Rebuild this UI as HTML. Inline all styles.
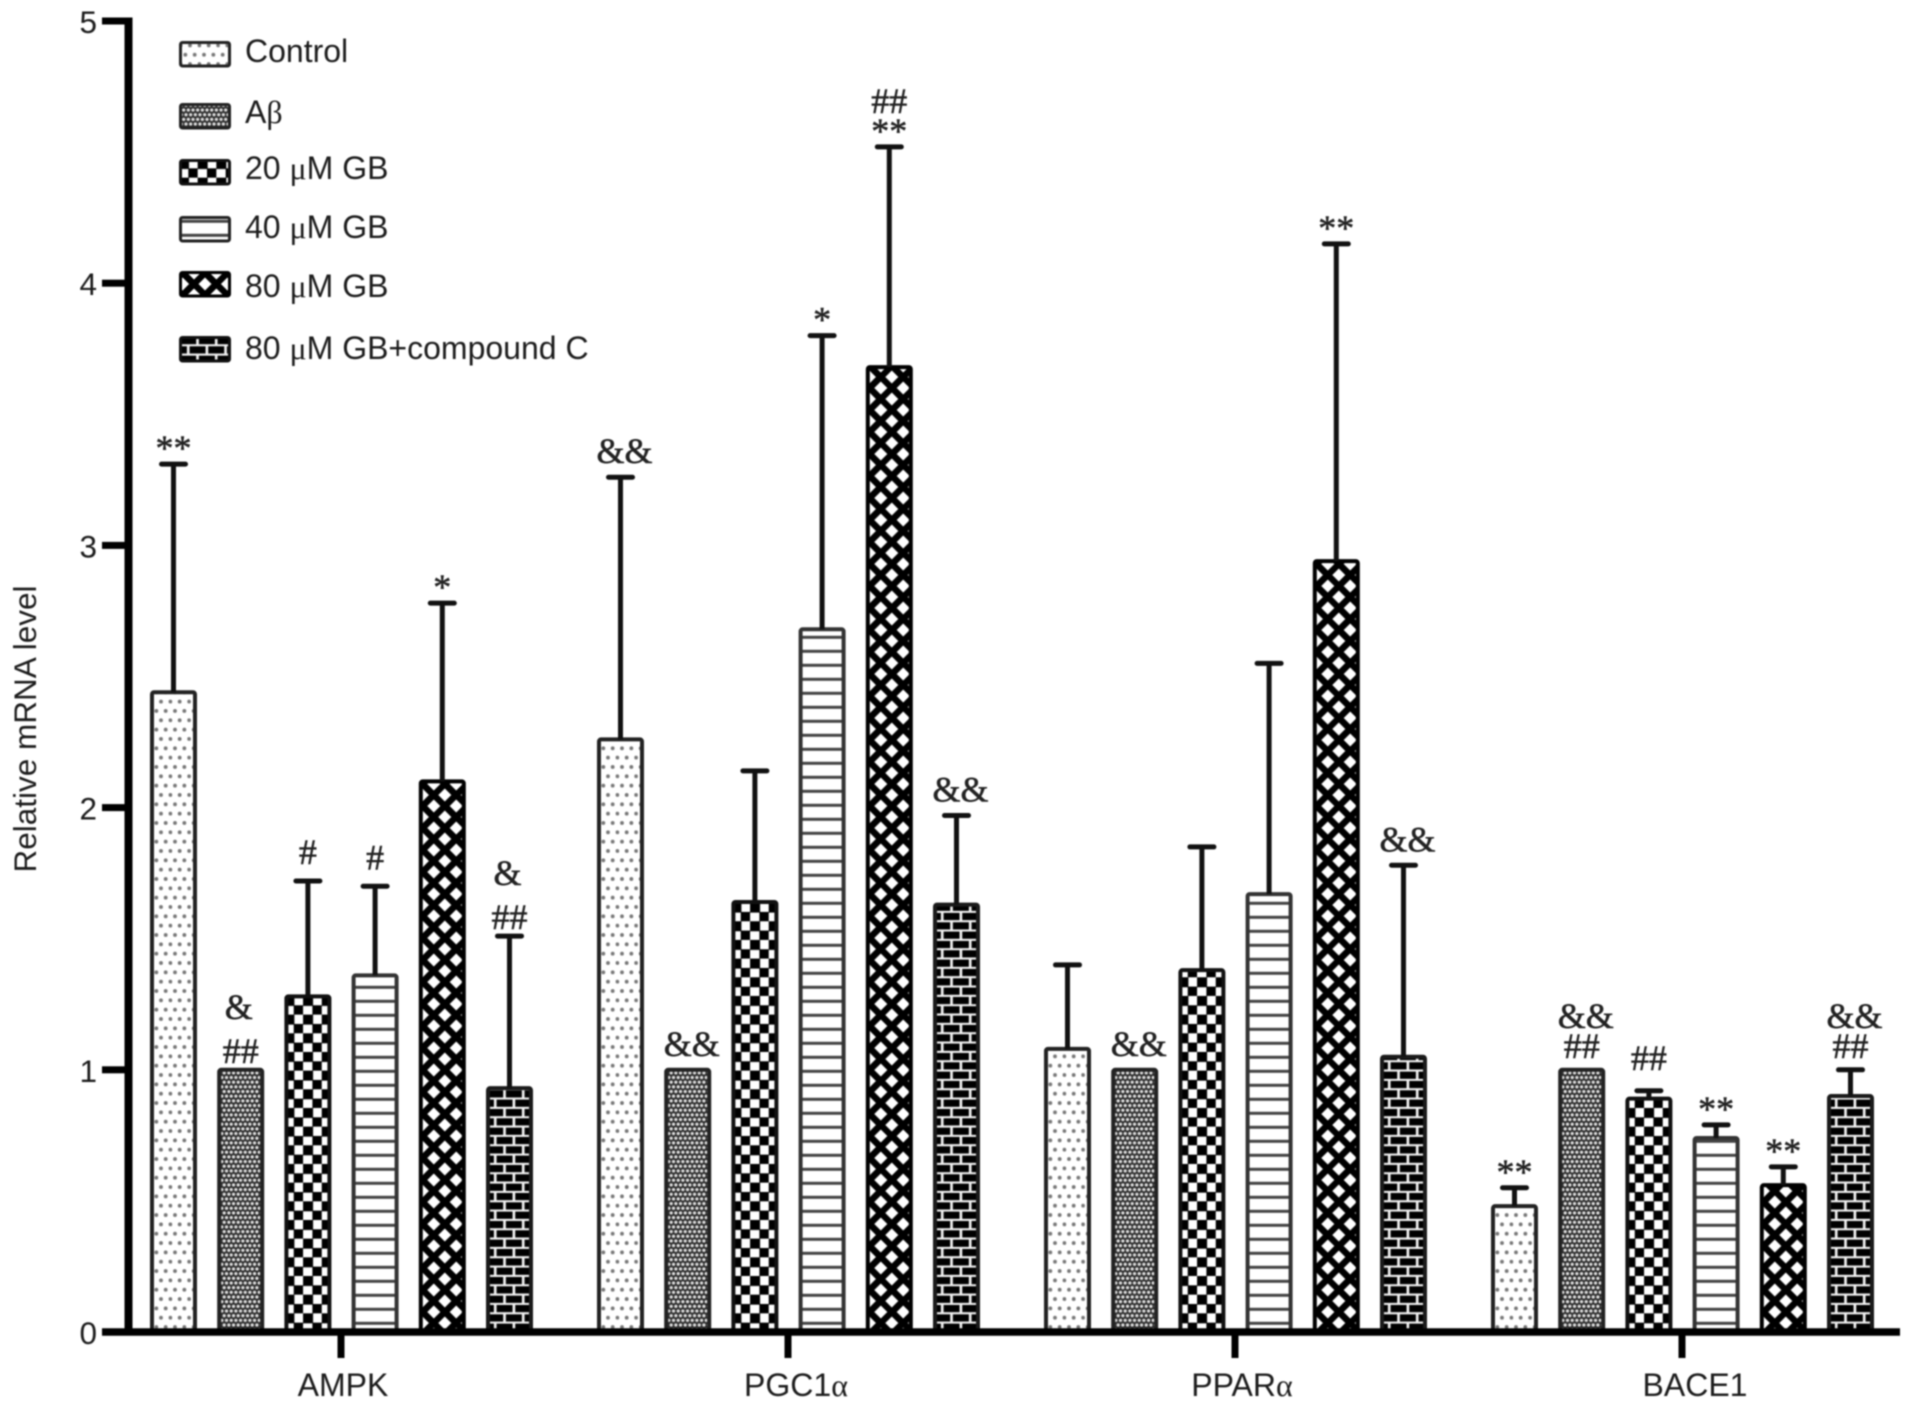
<!DOCTYPE html>
<html lang="en">
<head>
<meta charset="utf-8">
<title>Relative mRNA level chart</title>
<style>
  html, body { margin: 0; padding: 0; background: #fff; }
  body { width: 1913px; height: 1410px; overflow: hidden; }
  svg { display: block; filter: blur(0.7px); }
  .sans { font-family: "Liberation Sans", sans-serif; fill: #1c1c1c; }
  .greek { font-family: "Liberation Serif", serif; }
  .note { font-family: "Liberation Serif", serif; font-size: 36px; text-anchor: middle; fill: #222; stroke: #222; stroke-width: 0.5px; }
</style>
</head>
<body>
<svg id="chart" xmlns="http://www.w3.org/2000/svg" width="1913" height="1410" viewBox="0 0 1913 1410">
  <defs>
    <pattern id="fill-control" patternUnits="userSpaceOnUse" width="18.67" height="18.67">
      <rect width="18.67" height="18.67" fill="#fff"/>
      <circle cx="1.67" cy="4.37" r="1.9" fill="#777"/><circle cx="11" cy="4.37" r="1.9" fill="#777"/>
      <circle cx="6.33" cy="13.7" r="1.9" fill="#777"/><circle cx="15.67" cy="13.7" r="1.9" fill="#777"/>
    </pattern>
    <pattern id="fill-abeta" patternUnits="userSpaceOnUse" width="9.34" height="9.34">
      <rect width="9.34" height="9.34" fill="#2c2c2c"/>
      <circle cx="2.33" cy="2.33" r="1.65" fill="#e0e0e0"/><circle cx="7" cy="2.33" r="1.65" fill="#e0e0e0"/>
      <circle cx="0" cy="7" r="1.65" fill="#e0e0e0"/><circle cx="4.67" cy="7" r="1.65" fill="#e0e0e0"/><circle cx="9.34" cy="7" r="1.65" fill="#e0e0e0"/>
    </pattern>
    <pattern id="fill-20" patternUnits="userSpaceOnUse" width="18.67" height="18.67">
      <rect width="18.67" height="18.67" fill="#fff"/>
      <rect x="0" y="0" width="10" height="10" fill="#000"/>
      <rect x="9.33" y="9.33" width="10" height="10" fill="#000"/>
    </pattern>
    <pattern id="fill-40" patternUnits="userSpaceOnUse" width="14" height="14">
      <rect width="14" height="14" fill="#fff"/>
      <rect x="0" y="3.8" width="14" height="3" fill="#444"/>
    </pattern>
    <pattern id="fill-80" patternUnits="userSpaceOnUse" width="22.4" height="22">
      <rect width="22.4" height="22" fill="#000"/>
      <polygon points="3.6,6.5 10.1,13 3.6,19.5 -2.9,13" fill="#fff"/>
      <polygon points="26,6.5 32.5,13 26,19.5 19.5,13" fill="#fff"/>
      <polygon points="15,-4.5 21.5,2 15,8.5 8.5,2" fill="#fff"/>
      <polygon points="15,17.5 21.5,24 15,30.5 8.5,24" fill="#fff"/>
    </pattern>
    <pattern id="fill-brick" patternUnits="userSpaceOnUse" width="18.67" height="18.67">
      <rect width="18.67" height="18.67" fill="#f2f2f2"/>
      <rect x="1.2" y="1" width="16" height="7.2" fill="#000"/>
      <rect x="-8.1" y="10.3" width="16" height="7.2" fill="#000"/>
      <rect x="10.57" y="10.3" width="16" height="7.2" fill="#000"/>
    </pattern>
  </defs>

  <g id="bars"></g>
  <g id="errors"></g>
  <g id="notes"></g>
  <g id="axes"></g>

  <text class="sans" transform="translate(36,729) rotate(-90)" font-size="31.5" text-anchor="middle">Relative mRNA level</text>

  <g>
    <g>
      <g transform="translate(179,41)"><rect x="1.5" y="1.5" width="49" height="23.5" rx="2" fill="url(#fill-control)" stroke="#222" stroke-width="3"/></g>
      <text class="sans" x="245" y="62" font-size="32">Control</text>
    </g>
    <g>
      <g transform="translate(179,103)"><rect x="1.5" y="1.5" width="49" height="23.5" rx="2" fill="url(#fill-abeta)" stroke="#222" stroke-width="3"/></g>
      <text class="sans" x="245" y="123" font-size="32">A<tspan class="greek">β</tspan></text>
    </g>
    <g>
      <g transform="translate(179,159)"><rect x="1.5" y="1.5" width="49" height="23.5" rx="2" fill="url(#fill-20)" stroke="#111" stroke-width="3"/></g>
      <text class="sans" x="245" y="179" font-size="32">20 <tspan class="greek">μ</tspan>M GB</text>
    </g>
    <g>
      <g transform="translate(179,216)"><rect x="1.5" y="1.5" width="49" height="23.5" rx="2" fill="url(#fill-40)" stroke="#222" stroke-width="3"/></g>
      <text class="sans" x="245" y="238" font-size="32">40 <tspan class="greek">μ</tspan>M GB</text>
    </g>
    <g>
      <g transform="translate(179,271)"><rect x="1.5" y="1.5" width="49" height="23.5" rx="2" fill="url(#fill-80)" stroke="#000" stroke-width="3"/></g>
      <text class="sans" x="245" y="297" font-size="32">80 <tspan class="greek">μ</tspan>M GB</text>
    </g>
    <g>
      <g transform="translate(179,336)"><rect x="1.5" y="1.5" width="49" height="23.5" rx="2" fill="url(#fill-brick)" stroke="#111" stroke-width="3"/></g>
      <text class="sans" x="245" y="359" font-size="32">80 <tspan class="greek">μ</tspan>M GB+compound C</text>
    </g>
  </g>
</svg>

<script>
const categories = ["AMPK", "PGC1α", "PPARα", "BACE1"];
const yTicks = [0, 1, 2, 3, 4, 5];
const seriesKeys = ["control", "abeta", "20um", "40um", "80um", "80um-compound-c"];
const seriesFills = ["fill-control", "fill-abeta", "fill-20", "fill-40", "fill-80", "fill-brick"];
const seriesStrokes = ["#222", "#222", "#111", "#333", "#000", "#1a1a1a"];

const meansControl = [2.44, 2.26, 1.08, 0.48];
const meansAbeta = [1.0, 1.0, 1.0, 1.0];
const means20 = [1.28, 1.64, 1.38, 0.89];
const means40 = [1.36, 2.68, 1.67, 0.74];
const means80 = [2.10, 3.68, 2.94, 0.56];
const means80C = [0.93, 1.63, 1.05, 0.90];

const errorTopsControl = [3.31, 3.26, 1.40, 0.55];
const errorTopsAbeta = [1.0, 1.0, 1.0, 1.0];
const errorTops20 = [1.72, 2.14, 1.85, 0.92];
const errorTops40 = [1.70, 3.80, 2.55, 0.79];
const errorTops80 = [2.78, 4.52, 4.15, 0.63];
const errorTops80C = [1.51, 1.97, 1.78, 1.00];

// significance marks for each bar, listed from the bar upwards
const notesControl = [["**"], ["&&"], [], ["**"]];
const notesAbeta = [["##", "&"], ["&&"], ["&&"], ["##", "&&"]];
const notes20 = [["#"], [], [], ["##"]];
const notes40 = [["#"], ["*"], [], ["**"]];
const notes80 = [["*"], ["**", "##"], ["**"], ["**"]];
const notes80C = [["##", "&"], ["&&"], ["&&"], ["##", "&&"]];

const allMeans = [meansControl, meansAbeta, means20, means40, means80, means80C];
const allTops = [errorTopsControl, errorTopsAbeta, errorTops20, errorTops40, errorTops80, errorTops80C];
const allNotes = [notesControl, notesAbeta, notes20, notes40, notes80, notes80C];

const SVGNS = "http://www.w3.org/2000/svg";
const Y0 = 1332, Y_UNIT = 262.2;
const GROUP_START = 341.5, GROUP_STEP = 447, BAR_STEP = 67.2, BAR_W = 47, BAR_STROKE = 4;

function yScale(v) { return Y0 - v * Y_UNIT; }
function groupX(g) { return GROUP_START + g * GROUP_STEP; }
function barX(g, s) { return groupX(g) + (s - 2.5) * BAR_STEP; }

function make(parent, tag, attrs) {
  const el = document.createElementNS(SVGNS, tag);
  for (const k in attrs) el.setAttribute(k, attrs[k]);
  parent.appendChild(el);
  return el;
}

const barsLayer = document.getElementById("bars");
const errorsLayer = document.getElementById("errors");
const notesLayer = document.getElementById("notes");
const axesLayer = document.getElementById("axes");

function noteGlyphOffset(text) { return text[0] === "*" ? 17 : 12; }
function firstNoteGap(lines) {
  const t = lines[0];
  if (t[0] === "*") return 21;
  if (t[0] === "&") return 26;
  if (lines.length === 1) return t === "##" ? 33 : 29;
  return lines[1] === "&" ? 19 : 24;
}
function noteStep(prev, cur) {
  if (prev[0] === "*") return 25;
  if (cur === "&") return 44;
  return 30;
}
function noteShift(text) { return text === "&&" ? 4 : (text === "&" ? -2 : 0); }

categories.forEach(function (cat, g) {
  seriesKeys.forEach(function (key, s) {
    const cx = barX(g, s);
    const mean = allMeans[s][g];
    const top = allTops[s][g];
    const h = mean * Y_UNIT;

    if (top > mean) {
      const errGroup = make(errorsLayer, "g", { stroke: "#111", "stroke-width": 5 });
      
      
      make(errGroup, "line", { x1: cx, x2: cx, y1: yScale(mean), y2: yScale(top) });
      make(errGroup, "line", { x1: cx - 12, x2: cx + 12, y1: yScale(top), y2: yScale(top), "stroke-linecap": "round" });
    }

    const barGroup = make(barsLayer, "g", { transform: "translate(" + (cx - BAR_W / 2) + "," + Y0 + ")" });
    
    
    make(barGroup, "rect", {
      x: BAR_STROKE / 2, y: -h, width: BAR_W - BAR_STROKE, height: h, rx: 2,
      fill: "url(#" + seriesFills[s] + ")",
      stroke: seriesStrokes[s], "stroke-width": BAR_STROKE
    });

    const lines = allNotes[s][g];
    if (lines.length) {
      let centre = yScale(top) - firstNoteGap(lines);
      lines.forEach(function (text, i) {
        if (i > 0) centre -= noteStep(lines[i - 1], text);
        const label = make(notesLayer, "text", { class: "note", x: cx + noteShift(text), y: centre + noteGlyphOffset(text) });
        
        
        label.textContent = text;
      });
    }
  });
});

// axes
const yAxisLine = make(axesLayer, "rect", { x: 124.5, y: yScale(5) - 3.5, width: 8, height: Y0 - yScale(5) + 7, fill: "#000" });


const xAxisLine = make(axesLayer, "rect", { x: 102, y: Y0 - 3.75, width: 1798, height: 7.5, fill: "#000" });



yTicks.forEach(function (v) {
  const tick = make(axesLayer, "rect", { x: 102, y: yScale(v) - 3.5, width: 26, height: 7, fill: "#000" });
  
  
  const label = make(axesLayer, "text", { class: "sans", x: 97, y: yScale(v) + 12, "font-size": 31.5, "text-anchor": "end" });
  
  
  label.textContent = String(v);
});

categories.forEach(function (cat, g) {
  const x = groupX(g) - 0.5;
  const tick = make(axesLayer, "rect", { x: x - 3.5, y: Y0, width: 7, height: 26, fill: "#000" });
  
  
  const labelNudge = [2, 8, 7, 13][g];
  const label = make(axesLayer, "text", { class: "sans", x: x + labelNudge, y: 1396, "font-size": 32, "text-anchor": "middle" });
  
  
  const greekAt = cat.indexOf("α");
  if (greekAt >= 0) {
    label.appendChild(document.createTextNode(cat.slice(0, greekAt)));
    const greek = make(label, "tspan", { class: "greek" });
    greek.textContent = "α";
  } else {
    label.textContent = cat;
  }
});
</script>
</body>
</html>
